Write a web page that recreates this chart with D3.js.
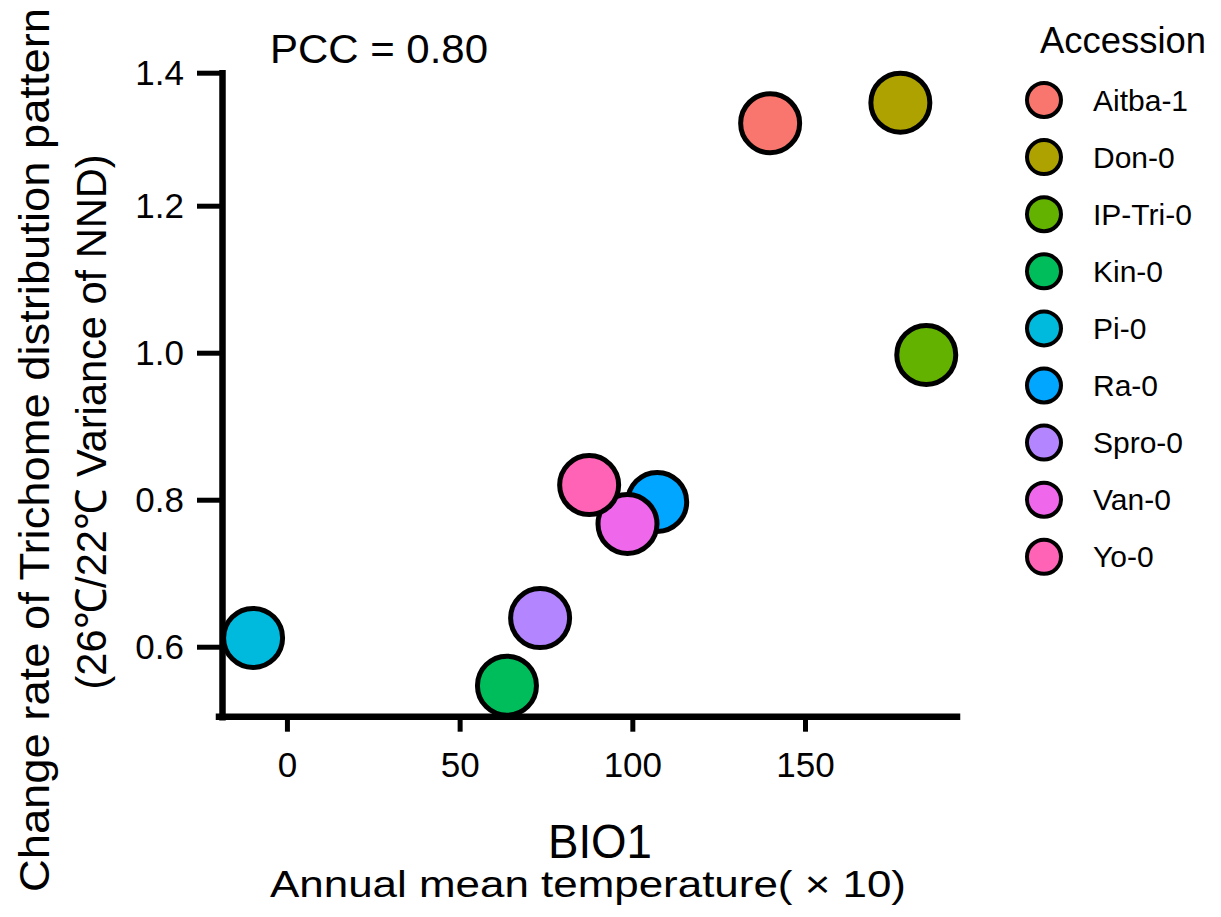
<!DOCTYPE html>
<html>
<head>
<meta charset="utf-8">
<script src="https://cdn.jsdelivr.net/npm/d3@7"></script>
<style>
  body { margin: 0; background: #fff; }
  svg { display: block; font-family: "Liberation Sans", Arial, sans-serif; }
</style>
</head>
<body>
<svg id="chart" width="1221" height="917"></svg>
<script>
const accessions = ["Aitba-1", "Don-0", "IP-Tri-0", "Kin-0", "Pi-0", "Ra-0", "Spro-0", "Van-0", "Yo-0"];
const bio1 = [139.9, 177.6, 185.1, 63.7, -9.8, 107.2, 73.3, 98.6, 87.5];
const changeRate = [1.324, 1.355, 0.997, 0.547, 0.612, 0.797, 0.639, 0.767, 0.820];
const colors = ["#F8766D", "#AEA200", "#64B200", "#00BD5C", "#00BADE", "#00A6FF", "#B385FF", "#EF67EB", "#FF63B6"];
const xTicks = [0, 50, 100, 150];
const yTicks = [0.6, 0.8, 1.0, 1.2, 1.4];

const svg = d3.select("#chart");

const x = d3.scaleLinear().domain([-18.8, 194]).range([222, 957]);
// the printed y axis is slightly compressed above 1.2, so keep that stop
const y = d3.scaleLinear().domain([0.5048, 1.2, 1.4]).range([716.7, 205.7, 72.7]);

const color = d3.scaleOrdinal().domain(accessions).range(colors);

const points = accessions.map((name, i) => ({ name, x: bio1[i], y: changeRate[i] }));

// axes
const xAxis = svg.append("g")
  .attr("transform", "translate(0,716.7)")
  .call(d3.axisBottom(x).tickValues(xTicks).tickSize(15).tickSizeOuter(0).tickPadding(20));

const yAxis = svg.append("g")
  .attr("transform", "translate(222,0)")
  .call(d3.axisLeft(y).tickValues(yTicks).tickSize(25).tickSizeOuter(0).tickPadding(13)
    .tickFormat(d3.format(".1f")));

[xAxis, yAxis].forEach(g => {
  g.select(".domain").attr("stroke", "#000").attr("stroke-width", 6.5).attr("stroke-linecap", "square");
  g.selectAll(".tick line").attr("stroke", "#000").attr("stroke-width", 5);
  g.selectAll(".tick text").attr("fill", "#000").attr("font-size", 35)
    .attr("font-family", "Liberation Sans, Arial, sans-serif");
});
xAxis.select(".domain").attr("d", `M${x.range()[0] - 3},0H${x.range()[1]}`);
yAxis.selectAll(".tick text").attr("dy", "0.35em");

// points
svg.append("g")
  .selectAll("circle")
  .data(points)
  .enter()
  .append("circle")
  .attr("cx", d => x(d.x))
  .attr("cy", d => y(d.y))
  .attr("r", 29.5)
  .attr("fill", d => color(d.name))
  .attr("stroke", "#000")
  .attr("stroke-width", 5);

svg.append("text")
  .attr("x", 270)
  .attr("y", 63)
  .attr("font-size", 41)
  .attr("textLength", 218)
  .attr("lengthAdjust", "spacingAndGlyphs")
  .text("PCC = 0.80");

// axis titles
svg.append("text")
  .attr("x", 600)
  .attr("y", 858)
  .attr("text-anchor", "middle")
  .attr("font-size", 49)
  .attr("textLength", 104)
  .attr("lengthAdjust", "spacingAndGlyphs")
  .text("BIO1");

svg.append("text")
  .attr("x", 588)
  .attr("y", 897)
  .attr("text-anchor", "middle")
  .attr("font-size", 37)
  .attr("textLength", 636)
  .attr("lengthAdjust", "spacingAndGlyphs")
  .text("Annual mean temperature( \u00d7 10)");

svg.append("text")
  .attr("transform", "translate(49,450) rotate(-90)")
  .attr("text-anchor", "middle")
  .attr("font-size", 43)
  .attr("textLength", 884)
  .attr("lengthAdjust", "spacingAndGlyphs")
  .text("Change rate of Trichome distribution pattern");

svg.append("text")
  .attr("transform", "translate(106,422) rotate(-90)")
  .attr("text-anchor", "middle")
  .attr("font-size", 43)
  .attr("textLength", 535)
  .attr("lengthAdjust", "spacingAndGlyphs")
  .text("(26\u2103/22\u2103 Variance of NND)");

// legend
const legend = svg.append("g");

legend.append("text")
  .attr("x", 1040)
  .attr("y", 53)
  .attr("font-size", 36)
  .attr("textLength", 166)
  .attr("lengthAdjust", "spacingAndGlyphs")
  .text("Accession");

const item = legend.selectAll("g.item")
  .data(accessions)
  .enter()
  .append("g")
  .attr("class", "item")
  .attr("transform", (d, i) => `translate(1044,${100 + i * 57.1})`);

item.append("circle")
  .attr("r", 17)
  .attr("fill", d => color(d))
  .attr("stroke", "#000")
  .attr("stroke-width", 4);

item.append("text")
  .attr("x", 49)
  .attr("dy", "0.35em")
  .attr("font-size", 30)
  .text(d => d);
</script>
</body>
</html>
